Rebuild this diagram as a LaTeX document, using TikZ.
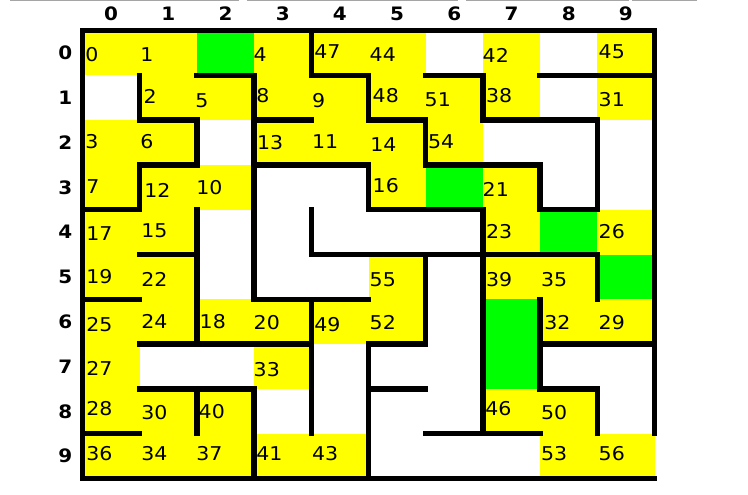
\documentclass[tikz,border=0pt]{standalone}
\usepackage{graphicx}
\usepackage{fontspec}
\setmainfont{DejaVu Sans}
\definecolor{cellY}{RGB}{255,255,0}
\definecolor{cellG}{RGB}{0,255,0}
\definecolor{topgray}{RGB}{165,165,165}
\newcommand{\wide}[1]{\scalebox{1.08}[1]{#1}}
\tikzset{
  wall/.style={line width=5.5pt, line cap=rect, line join=miter, black},
  celllbl/.style={anchor=west, inner sep=0pt, font=\fontsize{19}{19}\selectfont},
  axislbl/.style={anchor=center, inner sep=0pt, font=\fontsize{18.5}{18.5}\selectfont\bfseries},
  topline/.style={topgray, line width=1pt}
}
\begin{document}
\begin{tikzpicture}[x=1pt,y=-1pt]
\useasboundingbox (0,0) rectangle (748,495);
\fill[white] (0,0) rectangle (748,495);
% thin grey lines at the top edge
\foreach \a/\b in {10/239, 247/458, 466/629, 632/697}
  \draw[topline] (\a,0.5) -- (\b,0.5);
\begin{scope}[shift={(82.5,30.5)}, x=57.2pt, y=-44.8pt]
  % yellow cells
  \foreach \c/\r in {0/0,1/0,3/0,4/0,5/0,7/0,9/0,
                     1/1,2/1,3/1,4/1,5/1,6/1,7/1,9/1,
                     0/2,1/2,3/2,4/2,5/2,6/2,
                     0/3,1/3,2/3,5/3,7/3,
                     0/4,1/4,7/4,9/4,
                     0/5,1/5,5/5,7/5,8/5,
                     0/6,1/6,2/6,3/6,4/6,5/6,8/6,9/6,
                     0/7,3/7,
                     0/8,1/8,2/8,7/8,8/8,
                     0/9,1/9,2/9,3/9,4/9,8/9,9/9}
    \fill[cellY] (\c,\r) rectangle ++(1,1);
  % green cells
  \foreach \c/\r in {2/0,6/3,8/4,9/5,7/6,7/7}
    \fill[cellG] (\c,\r) rectangle ++(1,1);
  % axis labels
  \foreach \k in {0,...,9} {
    \node[axislbl] (col\k) at (\k+0.5,-0.37) {\wide{\k}};
    \node[axislbl] (row\k) at (-0.3,\k+0.5) {\wide{\k}};
  }
\end{scope}
% cell labels: ink left x / centre y / text
\foreach \x/\y/\t in {86.7/54.5/0, 141.7/54.8/1, 255/54.8/4, 315.7/52/47, 371/54.5/44, 484/55.3/42, 600/52/45,
    145/96.7/2, 196.7/100.5/5, 257.7/96/8, 313.3/100.5/9, 374/96/48, 426/100/51, 487.3/96/38, 600/100/31,
    86.7/141.7/3, 141.7/141.7/6, 258.3/142.5/13, 313.3/141.3/11, 371.7/144.2/14, 429.3/141.3/54,
    87.7/186.7/7, 145.7/190/12, 197.7/187.3/10, 374/186/16, 484/189.7/21,
    87.7/233.8/17, 142.7/231/15, 487.3/231.7/23, 600/231.8/26,
    87.7/276.7/19, 142.7/279.3/22, 371/279.3/55, 487.3/279.3/39, 542.3/279.3/35,
    87.7/325/25, 142.7/321.7/24, 201/321.7/18, 255/322.7/20, 315.7/325/49, 371/322.5/52, 545.7/322.5/32, 600/322.5/29,
    87.7/368.3/27, 255/370/33,
    87.7/408.8/28, 142.7/412.7/30, 200/412/40, 486.7/409/46, 542.3/412.7/50,
    87.7/453.7/36, 142.7/453.3/34, 197.7/453.3/37, 257.7/453.3/41, 313.3/453.3/43, 542.3/453.7/53, 600/453.7/56}
  \node[celllbl] (n\t) at (\x-1.5,\y) {\wide{\t}};
\begin{scope}[shift={(82.5,30.5)}, x=57.2pt, y=-44.8pt]
  % outer border (opening at the right of row 9)
  \draw[wall] (10,9) -- (10,0) -- (0,0) -- (0,10) -- (10,10);
  % horizontal walls: row line / from column / to column
  \foreach \i/\a/\b in {1/2/3,1/4/5,1/6/7,1/8/10,
                        2/1/2,2/3/4,2/5/6,2/7/9,
                        3/1/2,3/3/5,3/6/8,
                        4/0/1,4/5/7,4/8/9,
                        5/1/2,5/4/9,
                        6/0/1,6/3/5,
                        7/1/4,7/5/6,7/8/10,
                        8/1/3,8/5/6,8/8/9,
                        9/0/1,9/6/8}
    \draw[wall] (\a,\i) -- (\b,\i);
  % vertical walls: column line / from row / to row
  \foreach \j/\a/\b in {1/1/2,1/3/4,
                        2/2/3,2/4/7,2/8/9,
                        3/1/6,3/8/10,
                        4/0/1,4/4/5,4/6/9,
                        5/1/2,5/3/4,5/7/10,
                        6/2/3,6/5/7,
                        7/1/2,7/4/9,
                        8/3/4,8/6/8,
                        9/2/4,9/5/6,9/8/9}
    \draw[wall] (\j,\a) -- (\j,\b);
\end{scope}
\end{tikzpicture}
\end{document}
